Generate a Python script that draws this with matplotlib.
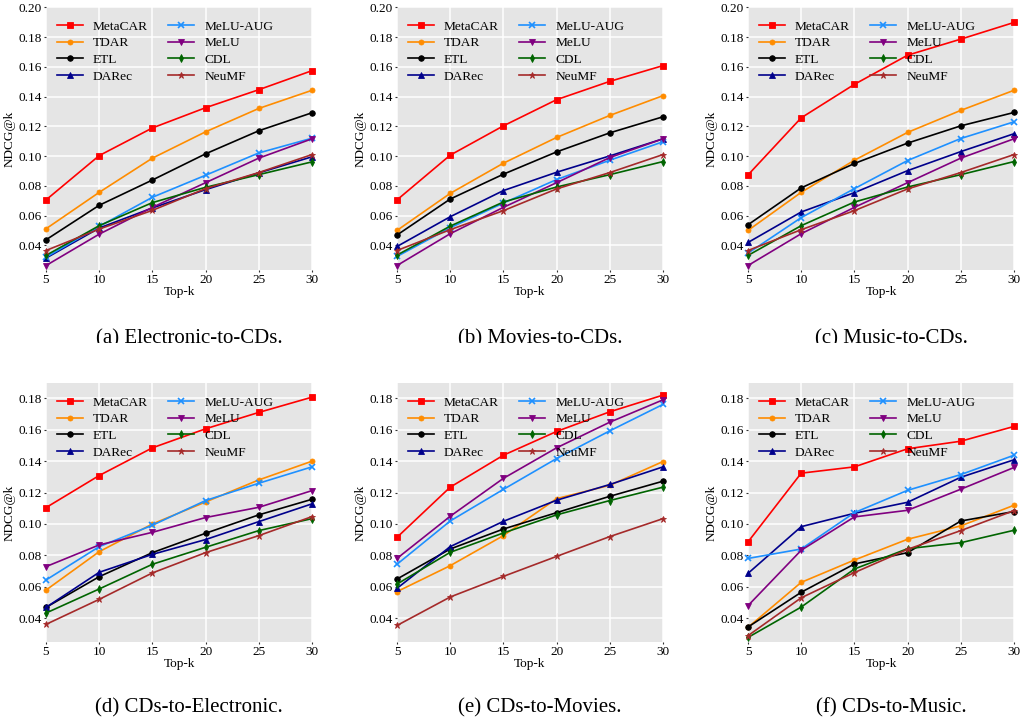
import matplotlib
matplotlib.use("Agg")
import matplotlib.pyplot as plt
from matplotlib.patches import Rectangle

topk = [5, 10, 15, 20, 25, 30]
methods = ["MetaCAR", "TDAR", "ETL", "DARec", "MeLU-AUG", "MeLU", "CDL", "NeuMF"]
captions = ["(a) Electronic-to-CDs.", "(b) Movies-to-CDs.", "(c) Music-to-CDs.",
            "(d) CDs-to-Electronic.", "(e) CDs-to-Movies.", "(f) CDs-to-Music."]

# panel (a) Electronic-to-CDs
a_metacar = [0.0706, 0.1004, 0.1190, 0.1326, 0.1447, 0.1575]
a_tdar = [0.0512, 0.0757, 0.0987, 0.1164, 0.1321, 0.1443]
a_etl = [0.0438, 0.0670, 0.0840, 0.1016, 0.1171, 0.1292]
a_darec = [0.0315, 0.0517, 0.0652, 0.0775, 0.0888, 0.0996]
a_meluaug = [0.0321, 0.0528, 0.0724, 0.0872, 0.1022, 0.1121]
a_melu = [0.0265, 0.0476, 0.0656, 0.0822, 0.0987, 0.1117]
a_cdl = [0.0333, 0.0533, 0.0688, 0.0791, 0.0876, 0.0962]
a_neumf = [0.0366, 0.0510, 0.0636, 0.0782, 0.0890, 0.1011]

# panel (b) Movies-to-CDs
b_metacar = [0.0706, 0.1007, 0.1204, 0.1380, 0.1503, 0.1609]
b_tdar = [0.0501, 0.0750, 0.0953, 0.1126, 0.1274, 0.1407]
b_etl = [0.0470, 0.0712, 0.0879, 0.1029, 0.1157, 0.1265]
b_darec = [0.0393, 0.0593, 0.0769, 0.0892, 0.1002, 0.1117]
b_meluaug = [0.0326, 0.0519, 0.0685, 0.0843, 0.0973, 0.1097]
b_melu = [0.0265, 0.0479, 0.0656, 0.0822, 0.0991, 0.1117]
b_cdl = [0.0335, 0.0530, 0.0692, 0.0793, 0.0876, 0.0964]
b_neumf = [0.0366, 0.0506, 0.0634, 0.0780, 0.0890, 0.1011]

# panel (c) Music-to-CDs
c_metacar = [0.0874, 0.1258, 0.1483, 0.1679, 0.1787, 0.1899]
c_tdar = [0.0501, 0.0757, 0.0973, 0.1160, 0.1308, 0.1443]
c_etl = [0.0539, 0.0787, 0.0951, 0.1088, 0.1204, 0.1294]
c_darec = [0.0420, 0.0625, 0.0755, 0.0903, 0.1031, 0.1151]
c_meluaug = [0.0348, 0.0587, 0.0782, 0.0971, 0.1119, 0.1231]
c_melu = [0.0265, 0.0479, 0.0656, 0.0822, 0.0987, 0.1117]
c_cdl = [0.0333, 0.0533, 0.0692, 0.0793, 0.0876, 0.0964]
c_neumf = [0.0366, 0.0506, 0.0634, 0.0780, 0.0890, 0.1011]

# panel (d) CDs-to-Electronic
d_metacar = [0.1104, 0.1308, 0.1484, 0.1605, 0.1709, 0.1806]
d_tdar = [0.0580, 0.0824, 0.1000, 0.1140, 0.1280, 0.1399]
d_etl = [0.0470, 0.0665, 0.0818, 0.0941, 0.1058, 0.1157]
d_darec = [0.0470, 0.0693, 0.0807, 0.0901, 0.1015, 0.1128]
d_meluaug = [0.0644, 0.0856, 0.0992, 0.1149, 0.1259, 0.1363]
d_melu = [0.0729, 0.0867, 0.0947, 0.1041, 0.1106, 0.1212]
d_cdl = [0.0434, 0.0587, 0.0744, 0.0852, 0.0958, 0.1034]
d_neumf = [0.0362, 0.0521, 0.0689, 0.0818, 0.0926, 0.1047]

# panel (e) CDs-to-Movies
e_metacar = [0.0915, 0.1234, 0.1437, 0.1588, 0.1713, 0.1819]
e_tdar = [0.0570, 0.0735, 0.0926, 0.1161, 0.1246, 0.1397]
e_etl = [0.0650, 0.0841, 0.0968, 0.1072, 0.1176, 0.1272]
e_darec = [0.0591, 0.0856, 0.1017, 0.1151, 0.1251, 0.1363]
e_meluaug = [0.0744, 0.1019, 0.1220, 0.1416, 0.1592, 0.1760]
e_melu = [0.0781, 0.1049, 0.1290, 0.1484, 0.1647, 0.1789]
e_cdl = [0.0618, 0.0820, 0.0943, 0.1058, 0.1149, 0.1234]
e_neumf = [0.0355, 0.0536, 0.0667, 0.0794, 0.0920, 0.1034]

# panel (f) CDs-to-Music
f_metacar = [0.0886, 0.1323, 0.1363, 0.1478, 0.1526, 0.1620]
f_tdar = [0.0343, 0.0629, 0.0771, 0.0903, 0.0988, 0.1119]
f_etl = [0.0345, 0.0566, 0.0746, 0.0818, 0.1019, 0.1079]
f_darec = [0.0686, 0.0983, 0.1068, 0.1138, 0.1297, 0.1408]
f_meluaug = [0.0781, 0.0841, 0.1072, 0.1214, 0.1314, 0.1437]
f_melu = [0.0481, 0.0833, 0.1045, 0.1087, 0.1221, 0.1359]
f_cdl = [0.0279, 0.0472, 0.0714, 0.0843, 0.0881, 0.0960]
f_neumf = [0.0290, 0.0531, 0.0691, 0.0839, 0.0958, 0.1085]

panels = [
    [a_metacar, a_tdar, a_etl, a_darec, a_meluaug, a_melu, a_cdl, a_neumf],
    [b_metacar, b_tdar, b_etl, b_darec, b_meluaug, b_melu, b_cdl, b_neumf],
    [c_metacar, c_tdar, c_etl, c_darec, c_meluaug, c_melu, c_cdl, c_neumf],
    [d_metacar, d_tdar, d_etl, d_darec, d_meluaug, d_melu, d_cdl, d_neumf],
    [e_metacar, e_tdar, e_etl, e_darec, e_meluaug, e_melu, e_cdl, e_neumf],
    [f_metacar, f_tdar, f_etl, f_darec, f_meluaug, f_melu, f_cdl, f_neumf],
]

top_yticks = [0.04, 0.06, 0.08, 0.10, 0.12, 0.14, 0.16, 0.18, 0.20]
bot_yticks = [0.04, 0.06, 0.08, 0.10, 0.12, 0.14, 0.16, 0.18]

colors = ["#ff0000", "#ff8c00", "#000000", "#00008b", "#1e90ff", "#800080", "#006400", "#a52a2a"]
markers = ["s", "o", "o", "^", "x", "v", "d", "*"]
msizes = [4.2, 3.6, 4.0, 4.2, 4.0, 4.2, 3.8, 4.5]

plt.rcParams["font.family"] = ["Liberation Serif", "DejaVu Serif"]
fig = plt.figure(figsize=(10.21, 7.25), dpi=100)

W, H = 1021.0, 725.0
lefts = [46, 397, 748]
aw = 266
rows = [(7, 270), (383, 642)]

for i in range(6):
    r, c = divmod(i, 3)
    top, bot = rows[r]
    ax = fig.add_axes([lefts[c] / W, 1 - bot / H, aw / W, (bot - top) / H])
    ax.set_facecolor("#e5e5e5")
    for s in ax.spines.values():
        s.set_visible(False)
    ax.grid(True, color="white", linewidth=1.1)
    ax.set_axisbelow(True)
    for j, name in enumerate(methods):
        ax.plot(topk, panels[i][j], color=colors[j], marker=markers[j],
                markersize=msizes[j], linewidth=1.2, label=name, clip_on=False,
                markeredgewidth=1.2 if markers[j] == "x" else 0.6)
    ax.set_xlim(5, 30)
    ax.set_xticks(topk)
    if r == 0:
        ax.set_ylim(0.0235, 0.2003)
        ax.set_yticks(top_yticks)
    else:
        ax.set_ylim(0.025, 0.1896)
        ax.set_yticks(bot_yticks)
    ax.set_yticklabels(["%.2f" % v for v in ax.get_yticks()])
    ax.tick_params(axis="both", labelsize=9.5, length=1.5, width=0.8, pad=1.5, color="#333333")
    ax.set_xlabel("Top-k", fontsize=9.5, labelpad=0)
    ax.set_ylabel("NDCG@k", fontsize=9.5, labelpad=2)
    ax.legend(loc="upper left", ncol=2, frameon=False, fontsize=9.6,
              handlelength=1.95, handletextpad=0.75, columnspacing=1.55,
              labelspacing=0.33, borderaxespad=0.4, bbox_to_anchor=(0.0, 0.99))
    cx = (lefts[c] + aw / 2 + 10) / W
    cy = 1 - (339 if r == 0 else 708) / H
    fig.text(cx, cy, captions[i], ha="center", va="center", fontsize=15)

# the top captions are cut off at the bottom in the source layout
fig.add_artist(Rectangle((0, 1 - 372 / H), 1, (372 - 343) / H,
                         transform=fig.transFigure, facecolor="white",
                         edgecolor="none", zorder=20))

fig.savefig("out.png", dpi=100)
